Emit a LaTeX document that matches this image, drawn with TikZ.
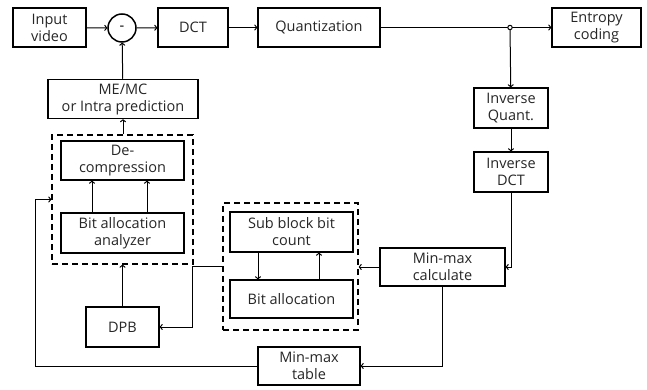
\documentclass[tikz,border=0pt]{standalone}
\usepackage{fontspec}
\setmainfont{Open Sans}
\usetikzlibrary{arrows.meta,positioning}
\begin{document}
\begin{tikzpicture}[x=1pt,y=-1pt,
  box/.style={draw,line width=1.5pt,align=center,inner sep=0pt,font=\fontsize{14.5}{17}\selectfont,text=black!85},
  dbox/.style={draw,line width=1.5pt,dash pattern=on 6pt off 4pt},
  conn/.style={line width=1pt,-{To[length=3pt,width=6pt]}},
  line/.style={line width=1pt}]
\useasboundingbox (0,0) rectangle (647,390);
% dashed groups
\node[dbox,minimum width=141pt,minimum height=129pt] (ldash) at (122.5,199.5) {};
\node[dbox,minimum width=135pt,minimum height=127pt] (rdash) at (290.5,266.5) {};
% boxes
\node[box,minimum width=73pt,minimum height=39pt] (inp) at (49.5,27.5) {Input\\video};
\node[draw,circle,line width=1.5pt,minimum size=28pt,inner sep=0pt,font=\fontsize{14.5}{17}\selectfont] (minus) at (122,28) {-};
\node[box,minimum width=70pt,minimum height=39pt] (dct) at (193,27.5) {DCT};
\node[box,minimum width=122pt,minimum height=39pt] (quant) at (319,27.5) {Quantization};
\node[box,minimum width=89pt,minimum height=39pt] (ent) at (596.5,27.5) {Entropy\\coding};
\node[box,minimum width=150pt,minimum height=39pt] (memc) at (123,99) {ME/MC\\or Intra prediction};
\node[box,minimum width=74pt,minimum height=40pt] (iq) at (511,108) {Inverse\\Quant.};
\node[box,minimum width=74pt,minimum height=40pt] (idct) at (511,172) {Inverse\\DCT};
\node[box,minimum width=123pt,minimum height=39pt] (decomp) at (122.5,160.5) {De-\\compression};
\node[box,minimum width=123pt,minimum height=40pt] (baa) at (122.5,233) {Bit allocation\\analyzer};
\node[box,minimum width=123pt,minimum height=40pt] (sbbc) at (291.5,232) {Sub block bit\\count};
\node[box,minimum width=123pt,minimum height=38pt] (balloc) at (291.5,299) {Bit allocation};
\node[box,minimum width=125pt,minimum height=38pt] (mmc) at (442.5,267) {Min-max\\calculate};
\node[box,minimum width=102pt,minimum height=38pt] (mmt) at (309,366) {Min-max\\table};
\node[box,minimum width=73pt,minimum height=40pt] (dpb) at (122.5,327) {DPB};
% junction
\coordinate (jn) at (510,27.5);
\coordinate (c1) at (192,266.5);
\coordinate (c2) at (35,366);
% connectors
\draw[conn] (inp) -- (minus);
\draw[conn] (minus) -- (dct);
\draw[conn] (dct) -- (quant);
\draw[line] (quant) -- (jn);
\draw[conn] (jn) -- (ent);
\draw[conn] (jn) -- (iq);
\draw[conn] (iq) -- (idct);
\draw[conn] (memc) -- (minus);
\draw[conn] (ldash.north -| memc) -- (memc);
\draw[conn] (dpb) -- (dpb |- ldash.south);
\draw[conn] (baa.north -| 92,0) -- (decomp.south -| 92,0);
\draw[conn] (baa.north -| 147,0) -- (decomp.south -| 147,0);
\draw[conn] (sbbc.south -| 258,0) -- (balloc.north -| 258,0);
\draw[conn] (balloc.north -| 319,0) -- (sbbc.south -| 319,0);
\draw[conn] (rdash.west) -- (c1) |- (dpb.east);
\draw[conn] (mmc.west) -- (rdash.east |- mmc.west);
\draw[conn] (idct.south) |- (mmc.east);
\draw[conn] (mmc.south) |- (mmt.east);
\draw[conn] (mmt.west) -- (c2) |- (ldash.west);
\filldraw[fill=white,line width=1pt] (jn) circle (2.2pt);
\end{tikzpicture}
\end{document}
